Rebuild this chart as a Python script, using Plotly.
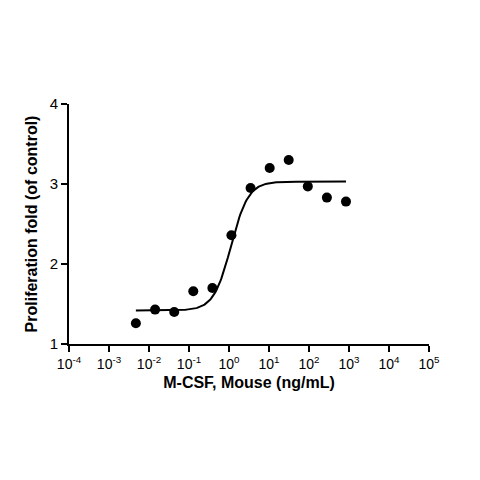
import numpy as np
import plotly.graph_objects as go

conc = [0.0047, 0.0142, 0.0427, 0.128, 0.384, 1.15, 3.46, 10.4, 31.1, 93.4, 280, 840]
prolif = [1.26, 1.43, 1.40, 1.66, 1.70, 2.36, 2.95, 3.20, 3.30, 2.97, 2.83, 2.78]
fit_bottom, fit_top, fit_logec50, fit_hill = 1.42, 3.03, 0.05, 2.0
tick_exps = [-4, -3, -2, -1, 0, 1, 2, 3, 4, 5]

lx = np.linspace(np.log10(conc[0]), np.log10(conc[-1]), 200)
fy = fit_bottom + (fit_top - fit_bottom) / (1 + 10 ** ((fit_logec50 - lx) * fit_hill))

fig = go.Figure()
fig.add_trace(go.Scatter(x=10 ** lx, y=fy, mode="lines", line=dict(color="black", width=2)))
fig.add_trace(go.Scatter(x=conc, y=prolif, mode="markers", marker=dict(color="black", size=10)))

fig.update_layout(
    width=480, height=480, showlegend=False,
    paper_bgcolor="white", plot_bgcolor="white",
    margin=dict(l=61, r=59, t=96, b=144),
    font=dict(family="Liberation Sans, Arial", color="black", size=14),
)
fig.update_xaxes(
    type="log", range=[-4, 5], showgrid=False, zeroline=False,
    showline=True, linecolor="black", linewidth=2,
    ticks="outside", ticklen=6, tickwidth=2, tickcolor="black",
    tickvals=[10 ** e for e in tick_exps],
    ticktext=[f"10<sup>{e}</sup>" for e in tick_exps],
    title=dict(text="<b>M-CSF, Mouse (ng/mL)</b>", font=dict(size=16), standoff=6),
)
fig.update_yaxes(
    range=[1, 4], showgrid=False, zeroline=False,
    showline=True, linecolor="black", linewidth=2,
    ticks="outside", ticklen=6, tickwidth=2, tickcolor="black",
    tickvals=[1, 2, 3, 4], tickfont=dict(size=15),
    title=dict(text="<b>Proliferation fold (of control)</b>", font=dict(size=16), standoff=8),
)
fig.write_html("out.html")
